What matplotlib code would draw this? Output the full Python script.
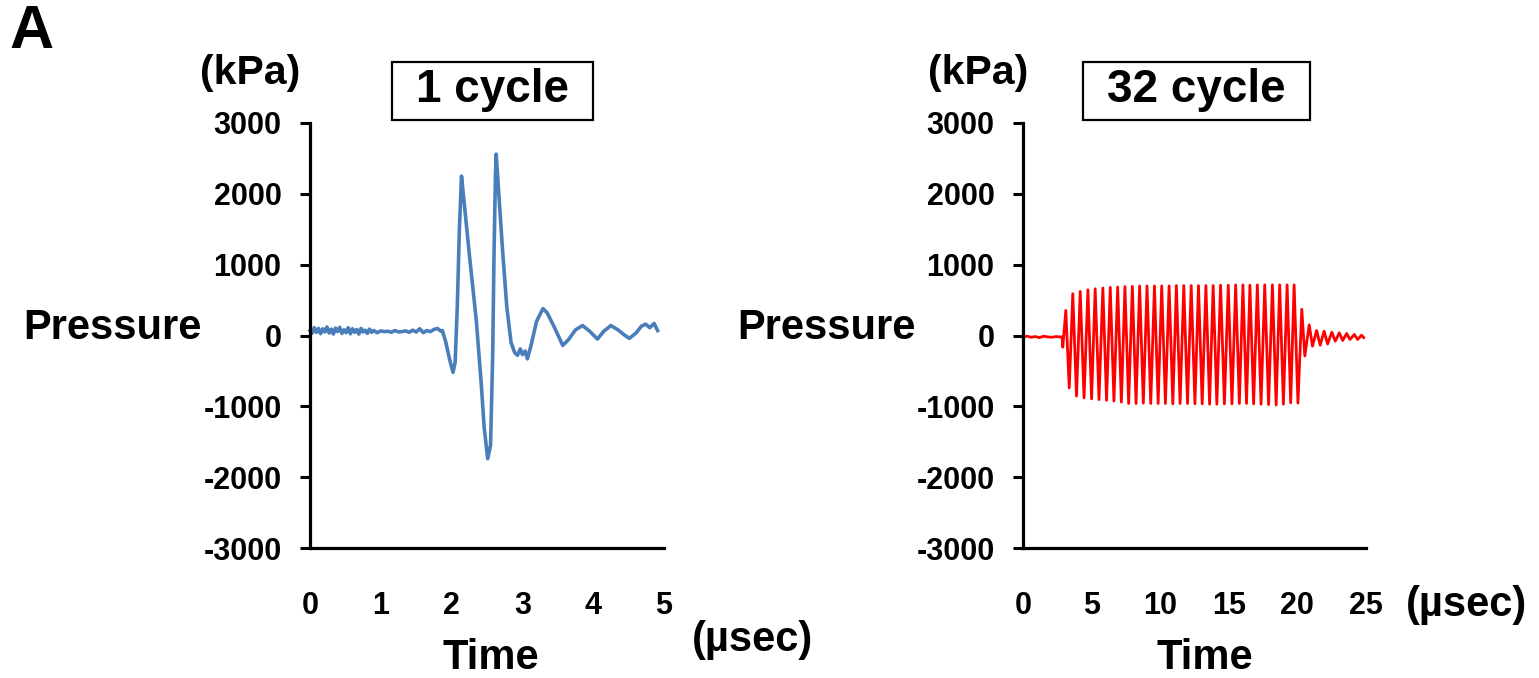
import matplotlib
matplotlib.use("Agg")
import matplotlib.pyplot as plt
from matplotlib.patches import Rectangle
import numpy as np

plt.rcParams['font.family'] = ['Liberation Sans', 'DejaVu Sans']
plt.rcParams['font.weight'] = 'bold'
plt.rcParams['axes.unicode_minus'] = False

# ---- 1 cycle waveform (time in usec, pressure in kPa) ----
t1 = [0.00, 0.03, 0.06, 0.09, 0.12, 0.15, 0.18, 0.21, 0.24, 0.27,
      0.30, 0.33, 0.36, 0.39, 0.42, 0.45, 0.48, 0.51, 0.54, 0.57,
      0.60, 0.63, 0.66, 0.69, 0.72, 0.75, 0.78, 0.81, 0.84, 0.87,
      0.90, 0.95, 1.00, 1.05, 1.10, 1.15, 1.20, 1.25, 1.30, 1.35,
      1.40, 1.45, 1.50, 1.55, 1.60, 1.65, 1.70, 1.75, 1.80, 1.85,
      1.87, 1.92, 1.97, 2.02, 2.05, 2.08, 2.11, 2.14, 2.17, 2.25,
      2.35, 2.42, 2.46, 2.51, 2.55, 2.58, 2.60, 2.62, 2.63, 2.66,
      2.72, 2.78, 2.84, 2.89, 2.93, 2.97, 3.00, 3.04, 3.07, 3.12,
      3.20, 3.29, 3.35, 3.45, 3.57, 3.65, 3.75, 3.85, 3.95, 4.06,
      4.15, 4.25, 4.35, 4.45, 4.51, 4.60, 4.68, 4.74, 4.80, 4.86,
      4.91]
p1 = [70, 30, 110, 45, 100, 25, 95, 50, 120, 35,
      90, 20, 105, 55, 115, 30, 80, 40, 110, 25,
      95, 45, 85, 20, 100, 50, 75, 30, 90, 45,
      70, 40, 65, 55, 60, 45, 70, 50, 55, 65,
      45, 75, 50, 95, 40, 70, 55, 85, 100, 60,
      70, -100, -330, -520, -380, 400, 1500, 2250, 1950, 1150,
      200, -700, -1300, -1740, -1550, -300, 1200, 2300, 2560, 2100,
      1200, 400, -100, -240, -280, -190, -270, -220, -330, -150,
      200, 380, 320, 120, -140, -60, 80, 140, 60, -50,
      60, 140, 80, 0, -40, 30, 130, 160, 110, 170,
      70]

# ---- 32 cycle waveform ----
t2_pre = [0.0, 0.3, 0.6, 0.9, 1.2, 1.5, 1.8, 2.1, 2.4, 2.7, 2.85, 2.90]
p2_pre = [-20, -10, -25, -15, -30, -10, -20, -25, -15, -20, -20, -165]

t2_peaks = [3.12, 3.63, 4.17, 4.73, 5.26, 5.82, 6.36, 6.90, 7.43, 7.97,
            8.50, 9.04, 9.58, 10.11, 10.65, 11.18, 11.72, 12.26, 12.79, 13.33,
            13.86, 14.40, 14.96, 15.50, 16.03, 16.54, 17.08, 17.62, 18.18, 18.71,
            19.25, 19.76, 20.32]
p2_peaks = [354, 590, 622, 645, 660, 670, 680, 685, 690, 695,
            700, 700, 700, 700, 700, 705, 705, 705, 705, 705,
            705, 710, 710, 715, 715, 710, 715, 715, 715, 715,
            715, 715, 370]

t2_troughs = [3.37, 3.90, 4.45, 5.00, 5.54, 6.09, 6.63, 7.17, 7.70, 8.24,
              8.77, 9.31, 9.85, 10.38, 10.92, 11.45, 11.99, 12.53, 13.06, 13.60,
              14.13, 14.68, 15.23, 15.77, 16.29, 16.81, 17.35, 17.90, 18.45, 18.98,
              19.51, 20.04]
p2_troughs = [-740, -855, -880, -895, -905, -915, -925, -940, -960, -960,
              -955, -960, -960, -960, -965, -960, -960, -965, -965, -970,
              -970, -965, -965, -960, -960, -965, -970, -975, -980, -970,
              -950, -955]

t2_ring = [20.54, 20.86, 21.10, 21.40, 21.66, 21.95, 22.20, 22.51, 22.76, 23.05,
           23.30, 23.59, 23.83, 24.15, 24.39, 24.68, 24.83]
p2_ring = [-290, 150, -150, 70, -137, 60, -120, 46, -80, 37,
           -70, 28, -56, 14, -56, 5, -30]

y_ticks = [-3000, -2000, -1000, 0, 1000, 2000, 3000]
x1_ticks = [0, 1, 2, 3, 4, 5]
x2_ticks = [0, 5, 10, 15, 20, 25]

# join the 32 cycle extrema into one trace
t2_osc = np.array(t2_peaks + t2_troughs)
p2_osc = np.array(p2_peaks + p2_troughs)
order = np.argsort(t2_osc)
t2 = np.concatenate([t2_pre, t2_osc[order], t2_ring])
p2 = np.concatenate([p2_pre, p2_osc[order], p2_ring])

W, H = 1539, 678
fig = plt.figure(figsize=(W / 100, H / 100), dpi=100)


def px(x, y):
    return x / W, 1 - y / H


def style_axes(ax, xmax, xticks):
    ax.set_xlim(0, xmax)
    ax.set_ylim(-3000, 3000)
    ax.set_yticks(y_ticks)
    ax.set_xticks(xticks)
    for s in ['top', 'right']:
        ax.spines[s].set_visible(False)
    for s in ['left', 'bottom']:
        ax.spines[s].set_linewidth(2.3)
    ax.tick_params(axis='y', length=7.5, width=2.2, pad=13, labelsize=22)
    ax.tick_params(axis='x', length=0, pad=31, labelsize=22)
    for lab in ax.get_xticklabels() + ax.get_yticklabels():
        lab.set_fontweight('bold')


ax1 = fig.add_axes([310 / W, 1 - 548 / H, 354 / W, 425 / H])
ax1.plot(t1, p1, color='#4a7ebb', lw=2.6, clip_on=False)
style_axes(ax1, 5, x1_ticks)

ax2 = fig.add_axes([1023 / W, 1 - 548 / H, 343 / W, 425 / H])
ax2.plot(t2, p2, color='#ff0000', lw=2.0, clip_on=False)
style_axes(ax2, 25, x2_ticks)

# text labels
fig.text(*px(32, 33), 'A', fontsize=44, fontweight='bold', ha='center', va='center')
for cx in (250, 978):
    fig.text(*px(cx, 73), '(kPa)', fontsize=29.5, fontweight='bold', ha='center', va='center')
for cx in (112, 826):
    fig.text(*px(cx, 328), 'Pressure', fontsize=30, fontweight='bold', ha='center', va='center')
for cx in (491, 1205):
    fig.text(*px(cx, 658), 'Time', fontsize=30, fontweight='bold', ha='center', va='center')
fig.text(*px(752, 640), '(\u00b5sec)', fontsize=30, fontweight='bold', ha='center', va='center')
fig.text(*px(1467, 605), '(\u00b5sec)', fontsize=30, fontweight='bold', ha='center', va='center')

# boxed titles
for (x0, x1, label) in [(392, 593, '1 cycle'), (1083, 1310, '32 cycle')]:
    fig.patches.append(Rectangle(px(x0, 120), (x1 - x0) / W, 58 / H,
                                 transform=fig.transFigure, fill=False,
                                 edgecolor='black', linewidth=1.6))
    fig.text(*px((x0 + x1) / 2, 90), label, fontsize=33, fontweight='bold',
             ha='center', va='center')

fig.savefig('out.png', dpi=100)
